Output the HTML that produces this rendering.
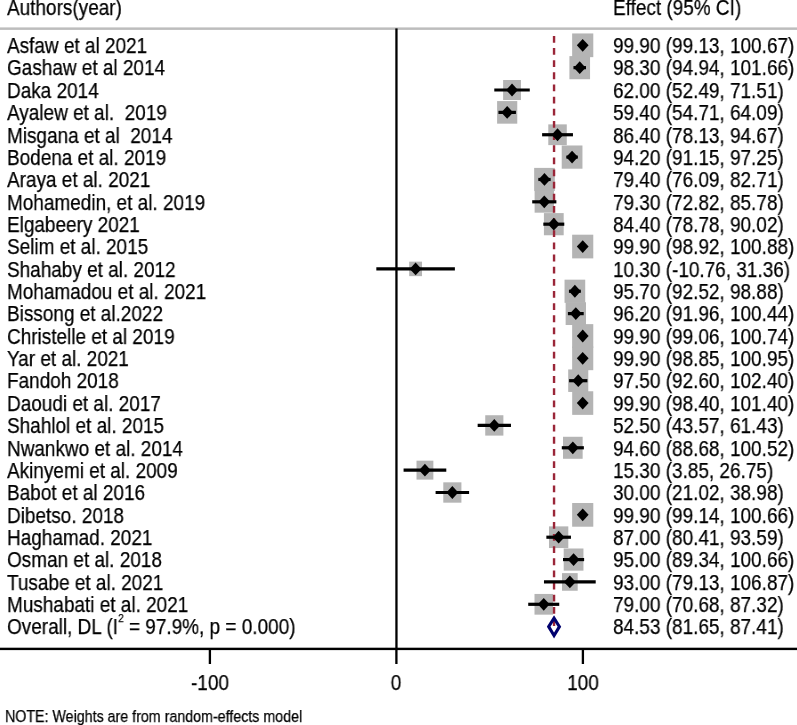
<!DOCTYPE html>
<html><head><meta charset="utf-8"><style>
html,body{margin:0;padding:0;background:#fff;}
body{width:797px;height:725px;position:relative;overflow:hidden;font-family:"Liberation Sans",sans-serif;color:#000;}
.t{position:absolute;white-space:pre;font-size:21.3px;line-height:normal;transform:scaleX(0.8901408450704226);transform-origin:0 0;will-change:transform;-webkit-text-stroke:0.25px #000;}
.t.c{transform:translateX(-50%) scaleX(0.8901408450704226);transform-origin:50% 0;}
.sup{font-size:11px;position:relative;top:-12.4px;padding-left:0.3px;}
svg{position:absolute;left:0;top:0;}
</style></head><body>
<svg width="797" height="725" viewBox="0 0 797 725">
<rect x="572.14" y="33.45" width="21.15" height="23.70" fill="#b4b4b4"/>
<rect x="569.41" y="56.10" width="20.64" height="23.13" fill="#b4b4b4"/>
<rect x="503.11" y="80.00" width="17.85" height="20.04" fill="#b4b4b4"/>
<rect x="497.10" y="101.08" width="20.16" height="22.60" fill="#b4b4b4"/>
<rect x="548.29" y="124.37" width="18.49" height="20.75" fill="#b4b4b4"/>
<rect x="561.72" y="145.48" width="20.73" height="23.23" fill="#b4b4b4"/>
<rect x="534.16" y="167.89" width="20.65" height="23.15" fill="#b4b4b4"/>
<rect x="534.61" y="190.95" width="19.38" height="21.73" fill="#b4b4b4"/>
<rect x="543.92" y="213.09" width="19.77" height="22.17" fill="#b4b4b4"/>
<rect x="572.15" y="234.70" width="21.13" height="23.68" fill="#b4b4b4"/>
<rect x="409.18" y="261.65" width="12.85" height="14.50" fill="#b4b4b4"/>
<rect x="564.54" y="279.67" width="20.69" height="23.19" fill="#b4b4b4"/>
<rect x="565.65" y="302.22" width="20.34" height="22.80" fill="#b4b4b4"/>
<rect x="572.14" y="324.13" width="21.14" height="23.69" fill="#b4b4b4"/>
<rect x="572.15" y="346.50" width="21.12" height="23.67" fill="#b4b4b4"/>
<rect x="568.20" y="369.44" width="20.08" height="22.51" fill="#b4b4b4"/>
<rect x="572.18" y="391.26" width="21.07" height="23.61" fill="#b4b4b4"/>
<rect x="485.24" y="415.24" width="18.15" height="20.37" fill="#b4b4b4"/>
<rect x="563.01" y="436.77" width="19.64" height="22.02" fill="#b4b4b4"/>
<rect x="416.51" y="460.67" width="16.85" height="18.93" fill="#b4b4b4"/>
<rect x="443.29" y="482.33" width="18.12" height="20.34" fill="#b4b4b4"/>
<rect x="572.14" y="503.01" width="21.15" height="23.70" fill="#b4b4b4"/>
<rect x="548.99" y="526.38" width="19.32" height="21.67" fill="#b4b4b4"/>
<rect x="563.70" y="548.50" width="19.75" height="22.15" fill="#b4b4b4"/>
<rect x="562.01" y="573.12" width="15.68" height="17.63" fill="#b4b4b4"/>
<rect x="534.50" y="593.94" width="18.46" height="20.72" fill="#b4b4b4"/>
<line x1="554.05" y1="35.9" x2="554.05" y2="626.66" stroke="#9a2638" stroke-width="2.4" stroke-dasharray="6.8 5.35"/>
<line x1="581.28" y1="45.30" x2="584.15" y2="45.30" stroke="#000" stroke-width="3.2"/>
<path d="M576.81 45.30L582.71 38.90L588.61 45.30L582.71 51.70Z" fill="#000"/>
<line x1="573.46" y1="67.66" x2="586.00" y2="67.66" stroke="#000" stroke-width="3.2"/>
<path d="M573.83 67.66L579.73 61.26L585.63 67.66L579.73 74.06Z" fill="#000"/>
<line x1="494.29" y1="90.02" x2="529.77" y2="90.02" stroke="#000" stroke-width="3.2"/>
<path d="M506.13 90.02L512.03 83.62L517.93 90.02L512.03 96.42Z" fill="#000"/>
<line x1="498.43" y1="112.38" x2="515.93" y2="112.38" stroke="#000" stroke-width="3.2"/>
<path d="M501.28 112.38L507.18 105.98L513.08 112.38L507.18 118.78Z" fill="#000"/>
<line x1="542.11" y1="134.74" x2="572.96" y2="134.74" stroke="#000" stroke-width="3.2"/>
<path d="M551.64 134.74L557.54 128.34L563.44 134.74L557.54 141.14Z" fill="#000"/>
<line x1="566.39" y1="157.10" x2="577.77" y2="157.10" stroke="#000" stroke-width="3.2"/>
<path d="M566.18 157.10L572.08 150.70L577.98 157.10L572.08 163.50Z" fill="#000"/>
<line x1="538.31" y1="179.46" x2="550.65" y2="179.46" stroke="#000" stroke-width="3.2"/>
<path d="M538.58 179.46L544.48 173.06L550.38 179.46L544.48 185.86Z" fill="#000"/>
<line x1="532.21" y1="201.82" x2="556.38" y2="201.82" stroke="#000" stroke-width="3.2"/>
<path d="M538.39 201.82L544.29 195.42L550.19 201.82L544.29 208.22Z" fill="#000"/>
<line x1="543.32" y1="224.18" x2="564.29" y2="224.18" stroke="#000" stroke-width="3.2"/>
<path d="M547.91 224.18L553.81 217.78L559.71 224.18L553.81 230.58Z" fill="#000"/>
<line x1="580.89" y1="246.54" x2="584.54" y2="246.54" stroke="#000" stroke-width="3.2"/>
<path d="M576.81 246.54L582.71 240.14L588.61 246.54L582.71 252.94Z" fill="#000"/>
<line x1="376.33" y1="268.90" x2="454.89" y2="268.90" stroke="#000" stroke-width="3.2"/>
<path d="M409.71 268.90L415.61 262.50L421.51 268.90L415.61 275.30Z" fill="#000"/>
<line x1="568.95" y1="291.26" x2="580.81" y2="291.26" stroke="#000" stroke-width="3.2"/>
<path d="M568.98 291.26L574.88 284.86L580.78 291.26L574.88 297.66Z" fill="#000"/>
<line x1="567.91" y1="313.62" x2="583.72" y2="313.62" stroke="#000" stroke-width="3.2"/>
<path d="M569.91 313.62L575.81 307.22L581.71 313.62L575.81 320.02Z" fill="#000"/>
<line x1="581.15" y1="335.98" x2="584.28" y2="335.98" stroke="#000" stroke-width="3.2"/>
<path d="M576.81 335.98L582.71 329.58L588.61 335.98L582.71 342.38Z" fill="#000"/>
<line x1="580.76" y1="358.34" x2="584.67" y2="358.34" stroke="#000" stroke-width="3.2"/>
<path d="M576.81 358.34L582.71 351.94L588.61 358.34L582.71 364.74Z" fill="#000"/>
<line x1="569.10" y1="380.70" x2="587.38" y2="380.70" stroke="#000" stroke-width="3.2"/>
<path d="M572.34 380.70L578.24 374.30L584.14 380.70L578.24 387.10Z" fill="#000"/>
<line x1="579.92" y1="403.06" x2="585.51" y2="403.06" stroke="#000" stroke-width="3.2"/>
<path d="M576.81 403.06L582.71 396.66L588.61 403.06L582.71 409.46Z" fill="#000"/>
<line x1="477.66" y1="425.42" x2="510.97" y2="425.42" stroke="#000" stroke-width="3.2"/>
<path d="M488.41 425.42L494.31 419.02L500.21 425.42L494.31 431.82Z" fill="#000"/>
<line x1="561.79" y1="447.78" x2="583.87" y2="447.78" stroke="#000" stroke-width="3.2"/>
<path d="M566.93 447.78L572.83 441.38L578.73 447.78L572.83 454.18Z" fill="#000"/>
<line x1="403.58" y1="470.14" x2="446.29" y2="470.14" stroke="#000" stroke-width="3.2"/>
<path d="M419.03 470.14L424.93 463.74L430.83 470.14L424.93 476.54Z" fill="#000"/>
<line x1="435.60" y1="492.50" x2="469.10" y2="492.50" stroke="#000" stroke-width="3.2"/>
<path d="M446.45 492.50L452.35 486.10L458.25 492.50L452.35 498.90Z" fill="#000"/>
<line x1="581.30" y1="514.86" x2="584.13" y2="514.86" stroke="#000" stroke-width="3.2"/>
<path d="M576.81 514.86L582.71 508.46L588.61 514.86L582.71 521.26Z" fill="#000"/>
<line x1="546.36" y1="537.22" x2="570.95" y2="537.22" stroke="#000" stroke-width="3.2"/>
<path d="M552.75 537.22L558.65 530.82L564.55 537.22L558.65 543.62Z" fill="#000"/>
<line x1="563.02" y1="559.58" x2="584.13" y2="559.58" stroke="#000" stroke-width="3.2"/>
<path d="M567.68 559.58L573.58 553.18L579.48 559.58L573.58 565.98Z" fill="#000"/>
<line x1="543.98" y1="581.94" x2="595.71" y2="581.94" stroke="#000" stroke-width="3.2"/>
<path d="M563.95 581.94L569.85 575.54L575.75 581.94L569.85 588.34Z" fill="#000"/>
<line x1="528.22" y1="604.30" x2="559.25" y2="604.30" stroke="#000" stroke-width="3.2"/>
<path d="M537.84 604.30L543.74 597.90L549.63 604.30L543.74 610.70Z" fill="#000"/>
<path d="M548.68 626.66L554.05 618.21L559.42 626.66L554.05 635.51Z" fill="none" stroke="#00006e" stroke-width="3.05" stroke-linejoin="miter"/>
<rect x="0" y="27.4" width="797" height="2.5" fill="#bdbdbd"/>
<rect x="395.3" y="28.4" width="2.3" height="620" fill="#000"/>
<rect x="0" y="647.7" width="797" height="2.4" fill="#000"/>
<rect x="208.75" y="648" width="2.3" height="16" fill="#000"/>
<rect x="395.25" y="648" width="2.3" height="16" fill="#000"/>
<rect x="581.75" y="648" width="2.3" height="16" fill="#000"/>
</svg>
<div class="t" style="left:7.10px;top:-4.00px;font-size:21.3px;">Authors(year)</div>
<div class="t" style="left:612.60px;top:-4.00px;font-size:21.3px;">Effect (95% CI)</div>
<div class="t" style="left:7.00px;top:34.00px;font-size:21.3px;">Asfaw et al 2021</div>
<div class="t" style="left:612.60px;top:34.00px;font-size:21.3px;">99.90 (99.13, 100.67)</div>
<div class="t" style="left:7.00px;top:56.00px;font-size:21.3px;">Gashaw et al 2014</div>
<div class="t" style="left:612.60px;top:56.00px;font-size:21.3px;">98.30 (94.94, 101.66)</div>
<div class="t" style="left:7.00px;top:79.00px;font-size:21.3px;">Daka 2014</div>
<div class="t" style="left:612.60px;top:79.00px;font-size:21.3px;">62.00 (52.49, 71.51)</div>
<div class="t" style="left:7.00px;top:101.00px;font-size:21.3px;">Ayalew et al.&nbsp; 2019</div>
<div class="t" style="left:612.60px;top:101.00px;font-size:21.3px;">59.40 (54.71, 64.09)</div>
<div class="t" style="left:7.00px;top:124.00px;font-size:21.3px;">Misgana et al&nbsp; 2014</div>
<div class="t" style="left:612.60px;top:124.00px;font-size:21.3px;">86.40 (78.13, 94.67)</div>
<div class="t" style="left:7.00px;top:146.00px;font-size:21.3px;">Bodena et al. 2019</div>
<div class="t" style="left:612.60px;top:146.00px;font-size:21.3px;">94.20 (91.15, 97.25)</div>
<div class="t" style="left:7.00px;top:168.00px;font-size:21.3px;">Araya et al. 2021</div>
<div class="t" style="left:612.60px;top:168.00px;font-size:21.3px;">79.40 (76.09, 82.71)</div>
<div class="t" style="left:7.00px;top:191.00px;font-size:21.3px;">Mohamedin, et al. 2019</div>
<div class="t" style="left:612.60px;top:191.00px;font-size:21.3px;">79.30 (72.82, 85.78)</div>
<div class="t" style="left:7.00px;top:213.00px;font-size:21.3px;">Elgabeery 2021</div>
<div class="t" style="left:612.60px;top:213.00px;font-size:21.3px;">84.40 (78.78, 90.02)</div>
<div class="t" style="left:7.00px;top:235.00px;font-size:21.3px;">Selim et al. 2015</div>
<div class="t" style="left:612.60px;top:235.00px;font-size:21.3px;">99.90 (98.92, 100.88)</div>
<div class="t" style="left:7.00px;top:258.00px;font-size:21.3px;">Shahaby et al. 2012</div>
<div class="t" style="left:612.60px;top:258.00px;font-size:21.3px;">10.30 (-10.76, 31.36)</div>
<div class="t" style="left:7.00px;top:280.00px;font-size:21.3px;">Mohamadou et al. 2021</div>
<div class="t" style="left:612.60px;top:280.00px;font-size:21.3px;">95.70 (92.52, 98.88)</div>
<div class="t" style="left:7.00px;top:302.00px;font-size:21.3px;">Bissong et al.2022</div>
<div class="t" style="left:612.60px;top:302.00px;font-size:21.3px;">96.20 (91.96, 100.44)</div>
<div class="t" style="left:7.00px;top:325.00px;font-size:21.3px;">Christelle et al 2019</div>
<div class="t" style="left:612.60px;top:325.00px;font-size:21.3px;">99.90 (99.06, 100.74)</div>
<div class="t" style="left:7.00px;top:347.00px;font-size:21.3px;">Yar et al. 2021</div>
<div class="t" style="left:612.60px;top:347.00px;font-size:21.3px;">99.90 (98.85, 100.95)</div>
<div class="t" style="left:7.00px;top:369.00px;font-size:21.3px;">Fandoh 2018</div>
<div class="t" style="left:612.60px;top:369.00px;font-size:21.3px;">97.50 (92.60, 102.40)</div>
<div class="t" style="left:7.00px;top:392.00px;font-size:21.3px;">Daoudi et al. 2017</div>
<div class="t" style="left:612.60px;top:392.00px;font-size:21.3px;">99.90 (98.40, 101.40)</div>
<div class="t" style="left:7.00px;top:414.00px;font-size:21.3px;">Shahlol et al. 2015</div>
<div class="t" style="left:612.60px;top:414.00px;font-size:21.3px;">52.50 (43.57, 61.43)</div>
<div class="t" style="left:7.00px;top:437.00px;font-size:21.3px;">Nwankwo et al. 2014</div>
<div class="t" style="left:612.60px;top:437.00px;font-size:21.3px;">94.60 (88.68, 100.52)</div>
<div class="t" style="left:7.00px;top:459.00px;font-size:21.3px;">Akinyemi et al. 2009</div>
<div class="t" style="left:612.60px;top:459.00px;font-size:21.3px;">15.30 (3.85, 26.75)</div>
<div class="t" style="left:7.00px;top:481.00px;font-size:21.3px;">Babot et al 2016</div>
<div class="t" style="left:612.60px;top:481.00px;font-size:21.3px;">30.00 (21.02, 38.98)</div>
<div class="t" style="left:7.00px;top:504.00px;font-size:21.3px;">Dibetso. 2018</div>
<div class="t" style="left:612.60px;top:504.00px;font-size:21.3px;">99.90 (99.14, 100.66)</div>
<div class="t" style="left:7.00px;top:526.00px;font-size:21.3px;">Haghamad. 2021</div>
<div class="t" style="left:612.60px;top:526.00px;font-size:21.3px;">87.00 (80.41, 93.59)</div>
<div class="t" style="left:7.00px;top:548.00px;font-size:21.3px;">Osman et al. 2018</div>
<div class="t" style="left:612.60px;top:548.00px;font-size:21.3px;">95.00 (89.34, 100.66)</div>
<div class="t" style="left:7.00px;top:571.00px;font-size:21.3px;">Tusabe et al. 2021</div>
<div class="t" style="left:612.60px;top:571.00px;font-size:21.3px;">93.00 (79.13, 106.87)</div>
<div class="t" style="left:7.00px;top:593.00px;font-size:21.3px;">Mushabati et al. 2021</div>
<div class="t" style="left:612.60px;top:593.00px;font-size:21.3px;">79.00 (70.68, 87.32)</div>
<div class="t" style="left:7.00px;top:615.00px;font-size:21.3px;">Overall, DL (I<span class="sup">2</span> = 97.9%, p = 0.000)</div>
<div class="t" style="left:612.60px;top:615.00px;font-size:21.3px;">84.53 (81.65, 87.41)</div>
<div class="t c" style="left:209.90px;top:671px;">-100</div>
<div class="t c" style="left:396.40px;top:671px;">0</div>
<div class="t c" style="left:582.90px;top:671px;">100</div>
<div class="t" style="left:5.30px;top:707.00px;font-size:16.3px;transform:scaleX(0.875);">NOTE: Weights are from random-effects model</div>
</body></html>
